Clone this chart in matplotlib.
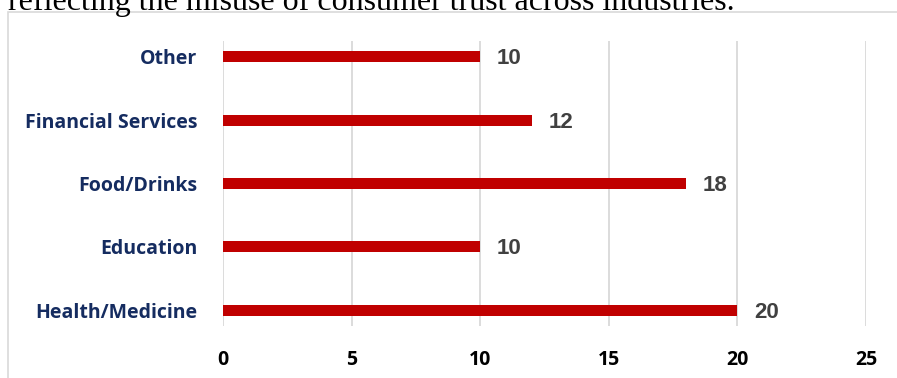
import matplotlib.pyplot as plt
from matplotlib.patches import Rectangle

categories = ["Health/Medicine", "Education", "Food/Drinks", "Financial Services", "Other"]
values = [20, 10, 18, 12, 10]
xticks = [0, 5, 10, 15, 20, 25]

bar_color = "#C00000"
label_color = "#152C60"
value_color = "#404040"

fig = plt.figure(figsize=(8.97, 3.78), dpi=100)
W, H = 897, 378

# surrounding text line, cut off at the top
fig.text(8 / W, 1 - 10 / H, "reflecting the misuse of consumer trust across industries.",
         family="Liberation Serif", fontsize=23, va="baseline", ha="left")

# chart frame
fig.add_artist(Rectangle((8 / W, -0.1), 1.2, 1 - 12 / H + 0.1, transform=fig.transFigure,
                         fill=False, edgecolor="#D9D9D9", linewidth=1.2))

ax = fig.add_axes([223 / W, 1 - 326 / H, (866 - 223) / W, (326 - 41) / H])
ypos = list(range(len(categories)))
ax.barh(ypos, values, height=0.17, color=bar_color, zorder=3)
for y, v in zip(ypos, values):
    ax.text(v + 0.65, y - 0.03, str(v), va="center", ha="left", family="Liberation Sans",
            fontweight="bold", fontsize=16, color=value_color)

ax.set_xlim(0, 25)
ax.set_ylim(-0.25, 4.25)
ax.set_xticks(xticks)
ax.set_xticklabels([str(t) for t in xticks], family="Open Sans", fontweight="bold",
                   fontsize=14, color="black")
ax.set_yticks(ypos)
ax.set_yticklabels(categories, family="Open Sans", fontweight="bold", fontsize=14,
                   color=label_color)
ax.tick_params(length=0)
ax.tick_params(axis="x", pad=17)
ax.tick_params(axis="y", pad=18.5)
ax.grid(axis="x", color="#D9D9D9", linewidth=1.3, zorder=0)
for s in ax.spines.values():
    s.set_visible(False)

fig.savefig("out.png", dpi=100)
